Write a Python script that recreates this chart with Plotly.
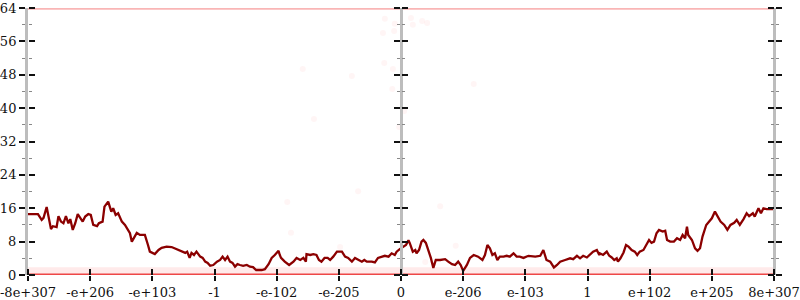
import plotly.graph_objects as go

# ---- data ----
x_ticks = [-6, -5, -4, -3, -2, -1, 0, 1, 2, 3, 4, 5, 6]
x_labels = ["-8e+307", "-e+206", "-e+103", "-1", "-e-102", "-e-205", "0",
            "e-206", "e-103", "1", "e+102", "e+205", "8e+307"]
y_ticks = [0, 8, 16, 24, 32, 40, 48, 56, 64]

line_x = [-6.0, -5.84, -5.78, -5.75, -5.70, -5.67, -5.63, -5.60, -5.54, -5.51, -5.47, -5.43,
          -5.39, -5.35, -5.32, -5.28, -5.24, -5.20, -5.16, -5.12, -5.08, -5.03, -4.99, -4.95,
          -4.89, -4.86, -4.80, -4.77, -4.71, -4.66, -4.63, -4.59, -4.55, -4.49, -4.44, -4.40,
          -4.36, -4.33, -4.29, -4.25, -4.20, -4.12, -4.07, -4.04, -3.96, -3.90, -3.85, -3.77,
          -3.69, -3.61, -3.53, -3.47, -3.44, -3.40, -3.37, -3.33, -3.29, -3.23, -3.19, -3.15,
          -3.11, -3.07, -3.02, -2.96, -2.91, -2.87, -2.83, -2.79, -2.75, -2.71, -2.67, -2.63,
          -2.59, -2.54, -2.48, -2.43, -2.38, -2.33, -2.24, -2.19, -2.13, -2.08, -2.03, -1.97,
          -1.95, -1.93, -1.87, -1.80, -1.73, -1.68, -1.62, -1.57, -1.53, -1.52, -1.46, -1.41,
          -1.36, -1.32, -1.28, -1.23, -1.18, -1.14, -1.09, -1.03, -0.95, -0.90, -0.85, -0.79,
          -0.74, -0.69, -0.63, -0.59, -0.55, -0.47, -0.42, -0.37, -0.31, -0.26, -0.20, -0.15,
          -0.10, -0.07, -0.02, 0.04, 0.08, 0.12, 0.14, 0.19, 0.23, 0.25, 0.29, 0.33,
          0.36, 0.40, 0.44, 0.48, 0.52, 0.56, 0.63, 0.71, 0.76, 0.82, 0.87, 0.92,
          0.96, 1.00, 1.06, 1.11, 1.17, 1.24, 1.31, 1.35, 1.39, 1.43, 1.47, 1.51,
          1.55, 1.59, 1.65, 1.70, 1.75, 1.81, 1.86, 1.91, 1.97, 2.05, 2.16, 2.24,
          2.29, 2.34, 2.40, 2.46, 2.51, 2.56, 2.64, 2.72, 2.77, 2.83, 2.88, 2.93,
          2.99, 3.04, 3.09, 3.15, 3.19, 3.20, 3.25, 3.31, 3.35, 3.39, 3.43, 3.47,
          3.49, 3.53, 3.58, 3.62, 3.66, 3.71, 3.76, 3.80, 3.84, 3.90, 3.95, 3.99,
          4.03, 4.07, 4.11, 4.15, 4.21, 4.25, 4.28, 4.33, 4.39, 4.44, 4.49, 4.53,
          4.57, 4.60, 4.62, 4.68, 4.73, 4.77, 4.81, 4.85, 4.91, 4.96, 5.00, 5.05,
          5.09, 5.14, 5.20, 5.25, 5.30, 5.36, 5.40, 5.45, 5.51, 5.56, 5.60, 5.66,
          5.69, 5.75, 5.79, 5.83, 5.88, 6.0]
line_y = [14.6, 14.6, 13.2, 13.7, 16.3, 14.0, 11.0, 11.7, 11.5, 14.1, 12.8, 12.4,
          14.1, 12.4, 13.4, 10.8, 12.4, 14.6, 13.7, 12.8, 14.0, 14.6, 14.4, 12.0,
          11.7, 12.4, 12.8, 16.4, 17.6, 15.2, 16.0, 14.4, 14.8, 12.8, 12.0, 10.8,
          10.0, 8.0, 9.2, 10.1, 9.6, 9.6, 7.2, 5.6, 5.0, 6.0, 6.5, 6.8,
          6.7, 6.2, 5.8, 5.3, 5.6, 4.1, 5.3, 4.8, 5.6, 4.4, 4.1, 3.2,
          2.9, 2.2, 2.4, 3.2, 3.6, 4.4, 3.6, 4.4, 3.2, 2.9, 2.0, 2.6,
          2.4, 2.2, 2.4, 2.0, 1.9, 1.2, 1.2, 1.4, 2.6, 4.1, 4.8, 5.8,
          4.8, 4.1, 3.2, 2.4, 3.2, 4.1, 3.6, 4.1, 3.2, 5.0, 4.8, 5.0,
          4.8, 3.6, 3.2, 4.1, 4.1, 3.6, 4.4, 5.6, 5.6, 4.4, 4.1, 3.2,
          4.1, 3.6, 3.2, 3.6, 3.2, 3.2, 3.0, 4.1, 4.4, 4.6, 4.4, 5.2,
          4.8, 5.6, 6.2, 6.8, 7.2, 8.3, 7.7, 5.6, 6.0, 5.2, 6.0, 8.0,
          8.4, 7.7, 6.0, 4.1, 1.7, 3.6, 3.6, 3.8, 3.2, 2.6, 2.4, 3.2,
          2.4, 1.0, 2.4, 4.1, 4.8, 4.4, 3.6, 4.8, 7.2, 6.4, 4.8, 5.2,
          3.6, 4.4, 4.4, 4.6, 4.4, 5.2, 4.4, 4.4, 4.1, 4.6, 4.4, 4.6,
          6.0, 3.6, 3.2, 1.8, 2.4, 3.2, 3.6, 4.0, 3.8, 4.6, 4.0, 4.6,
          4.2, 4.8, 5.6, 6.0, 4.8, 5.2, 4.8, 5.6, 4.6, 4.2, 3.6, 4.0,
          3.2, 4.0, 5.4, 7.2, 6.8, 6.0, 5.6, 4.8, 5.6, 6.0, 7.2, 8.4,
          7.7, 8.0, 10.0, 10.8, 10.4, 10.6, 8.4, 8.0, 8.0, 8.8, 8.4, 9.6,
          8.8, 11.6, 9.6, 8.4, 6.4, 5.8, 6.4, 9.2, 12.0, 12.8, 13.6, 15.2,
          14.0, 12.8, 12.0, 10.8, 12.0, 12.5, 13.2, 12.0, 13.4, 14.8, 14.1, 14.8,
          14.0, 16.0, 14.8, 16.0, 15.8, 15.8]

band_x = [-6, 6]
floor_y = [0, 0]
haze_y = [1.0, 1.0]
ceil_y = [64, 64]

dots_x = [-1.58, -0.79, -0.27, -0.13, -0.14, -1.40, 1.17, 0.05, -0.03, -0.26, -0.10,
          -0.11, -0.29, 0.16, 0.19, 0.34, 0.42, -1.83, -1.77, -0.69, -0.98, 0.63, 0.88, 0.39]
dots_y = [49.4, 47.7, 50.8, 49.4, 44.6, 37.4, 45.8, 39.3, 35.5, 61.4, 60.2,
          58.5, 58.0, 61.6, 60.0, 60.9, 60.4, 17.5, 10.1, 20.1, 6.7, 16.5, 7.0, 3.1]

FONT = "DejaVu Serif"
AXIS_GRAY = "#bdbdbd"

fig = go.Figure()

# red bands of samples
fig.add_trace(go.Scatter(x=band_x, y=haze_y, mode="lines",
                         line=dict(color="rgba(255,60,60,0.11)", width=7),
                         hoverinfo="skip", showlegend=False))
fig.add_trace(go.Scatter(x=band_x, y=floor_y, mode="lines",
                         line=dict(color="rgba(235,40,40,0.85)", width=3),
                         hoverinfo="skip", showlegend=False))
fig.add_trace(go.Scatter(x=band_x, y=ceil_y, mode="lines",
                         line=dict(color="rgba(240,70,70,0.4)", width=3.5),
                         hoverinfo="skip", showlegend=False))
fig.add_trace(go.Scatter(x=dots_x, y=dots_y, mode="markers",
                         marker=dict(color="rgba(255,80,80,0.06)", size=6),
                         hoverinfo="skip", showlegend=False))
# main line
fig.add_trace(go.Scatter(x=line_x, y=line_y, mode="lines",
                         line=dict(color="#8b0000", width=2.3),
                         showlegend=False))

yr = [0, 64]
common_y = dict(range=yr, tickvals=y_ticks, ticklen=6, tickwidth=1.5, tickcolor="#111",
                showgrid=False, zeroline=False, fixedrange=True, automargin=False,
                minor=dict(dtick=4, tick0=0, ticklen=3, tickcolor="#888", tickwidth=1,
                           ticks="outside", showgrid=False))

fig.update_layout(
    width=800, height=300,
    margin=dict(l=28, r=26, t=8, b=25),
    paper_bgcolor="white", plot_bgcolor="white",
    font=dict(family=FONT, size=13, color="#111"),
    xaxis=dict(range=[-6, 6], tickvals=x_ticks, ticktext=x_labels, ticks="outside",
               ticklen=5, tickwidth=1.5, tickcolor="#111", showline=False, automargin=False,
               ticklabeloverflow="allow",
               showgrid=False, zeroline=False, tickfont=dict(family=FONT, size=13)),
    xaxis2=dict(range=[-6, 6], tickvals=x_ticks, overlaying="x", side="top",
                anchor="free", position=0, ticks="outside", ticklen=6, tickwidth=1.5,
                tickcolor="#111", showticklabels=False, showline=False, automargin=False,
                showgrid=False, zeroline=False),
    yaxis=dict(**common_y, ticks="outside", side="left", showline=True,
               linecolor=AXIS_GRAY, linewidth=3, showticklabels=True,
               ticklabeloverflow="allow",
               tickfont=dict(family=FONT, size=13)),
    yaxis2=dict(**common_y, ticks="outside", side="right", overlaying="y",
                anchor="free", position=0, showline=False, showticklabels=False),
    yaxis3=dict(**common_y, ticks="outside", side="left", overlaying="y",
                anchor="free", position=0.5, showline=True, linecolor=AXIS_GRAY,
                linewidth=3, showticklabels=False),
    yaxis4=dict(**common_y, ticks="outside", side="right", overlaying="y",
                anchor="free", position=0.5, showline=False, showticklabels=False),
    yaxis5=dict(**common_y, ticks="outside", side="right", overlaying="y",
                anchor="free", position=1, showline=True, linecolor=AXIS_GRAY,
                linewidth=3, showticklabels=False),
    yaxis6=dict(**common_y, ticks="outside", side="left", overlaying="y",
                anchor="free", position=1, showline=False, showticklabels=False),
)

# invisible anchor traces so overlay axes render
for ax in ["y2", "y3", "y4", "y5", "y6"]:
    fig.add_trace(go.Scatter(x=[None], y=[None], yaxis=ax, mode="lines",
                             showlegend=False, hoverinfo="skip"))
fig.add_trace(go.Scatter(x=[None], y=[None], xaxis="x2", mode="lines",
                         showlegend=False, hoverinfo="skip"))

fig.write_html("out.html")
